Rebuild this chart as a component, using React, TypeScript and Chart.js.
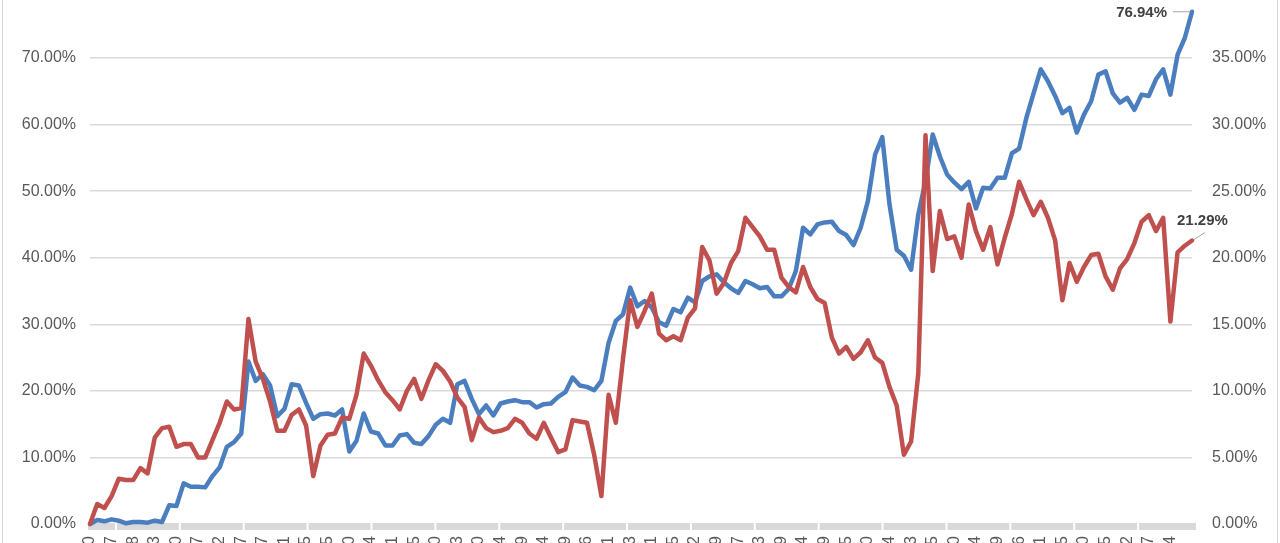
import { useEffect, useRef } from "react";
import { Chart, registerables, Plugin } from "chart.js";

Chart.register(...registerables);

// x-axis labels, one every 3 points (only the last digit survives the crop)
const tickLabels = [
  "2015/1/20", "2015/3/17", "2015/5/18", "2015/7/13", "2015/9/10", "2015/11/17",
  "2016/1/12", "2016/3/17", "2016/5/27", "2016/7/21", "2016/9/15", "2016/11/25",
  "2017/1/20", "2017/3/24", "2017/5/11", "2017/7/25", "2017/9/20", "2017/11/23",
  "2018/1/10", "2018/3/14", "2018/5/29", "2018/7/24", "2018/9/19", "2018/11/16",
  "2019/1/11", "2019/3/13", "2019/5/21", "2019/7/15", "2019/9/12", "2019/11/19",
  "2020/1/17", "2020/3/23", "2020/5/19", "2020/7/14", "2020/9/29", "2020/11/25",
  "2021/1/20", "2021/3/24", "2021/5/13", "2021/7/15", "2021/9/10", "2021/11/24",
  "2022/1/19", "2022/3/16", "2022/5/11", "2022/7/15", "2022/9/20", "2022/11/25",
  "2023/1/12", "2023/3/17", "2023/5/24",
];

// blue line, left axis (%)
const blueSeries = [
  0, 0.6, 0.4, 0.7, 0.5, 0.1, 0.3, 0.3, 0.2, 0.5,
  0.3, 2.8, 2.7, 6.1, 5.6, 5.6, 5.5, 7.2, 8.5, 11.6,
  12.3, 13.6, 24.4, 21.5, 22.5, 20.8, 16.2, 17.3, 21.0, 20.8,
  18.2, 15.8, 16.5, 16.6, 16.3, 17.2, 10.9, 12.5, 16.6, 13.9,
  13.6, 11.8, 11.8, 13.3, 13.5, 12.2, 12.0, 13.2, 14.9, 15.8,
  15.2, 21.0, 21.5, 18.8, 16.5, 17.8, 16.3, 18.1, 18.4, 18.6,
  18.3, 18.3, 17.5, 18.0, 18.1, 19.1, 19.8, 22.0, 20.8, 20.6,
  20.1, 21.5, 27.2, 30.5, 31.5, 35.5, 32.7, 33.5, 32.5, 30.3,
  29.8, 32.3, 31.8, 34.0, 33.3, 36.5, 37.2, 37.5, 36.3, 35.4,
  34.7, 36.5, 36.0, 35.4, 35.6, 34.2, 34.2, 35.3, 38.0, 44.5,
  43.5, 45.0, 45.3, 45.4, 44.0, 43.4, 41.9, 44.5, 48.5, 55.5,
  58.1, 48.0, 41.2, 40.3, 38.2, 46.5, 51.5, 58.5, 55.2, 52.5,
  51.3, 50.3, 51.4, 47.4, 50.5, 50.4, 52.0, 52.0, 55.7, 56.4,
  61.0, 64.7, 68.3, 66.5, 64.3, 61.7, 62.5, 58.8, 61.5, 63.5,
  67.5, 68.0, 64.7, 63.3, 64.0, 62.2, 64.5, 64.3, 66.8, 68.3,
  64.5, 70.5, 73.0, 76.94,
];

// red line, right axis (%)
const redSeries = [
  0, 1.5, 1.2, 2.1, 3.4, 3.3, 3.3, 4.2, 3.8, 6.5,
  7.2, 7.3, 5.8, 6.0, 6.0, 5.0, 5.0, 6.3, 7.6, 9.2,
  8.6, 8.7, 15.4, 12.2, 10.9, 9.2, 7.0, 7.0, 8.2, 8.6,
  7.4, 3.6, 5.9, 6.7, 6.8, 8.0, 7.9, 9.7, 12.8, 11.9,
  10.8, 9.9, 9.3, 8.6, 10.0, 10.9, 9.4, 10.8, 12.0, 11.5,
  10.7, 9.5, 8.8, 6.3, 8.0, 7.2, 6.9, 7.0, 7.2, 7.9,
  7.6, 6.8, 6.4, 7.6, 6.5, 5.4, 5.6, 7.8, 7.7, 7.6,
  5.2, 2.1, 9.7, 7.6, 12.4, 16.8, 14.8, 16.0, 17.3, 14.3,
  13.8, 14.1, 13.8, 15.5, 16.2, 20.8, 19.8, 17.3, 18.1, 19.6,
  20.5, 23.0, 22.3, 21.6, 20.6, 20.6, 18.5, 17.8, 17.4, 19.3,
  17.8, 16.9, 16.6, 14.0, 12.8, 13.3, 12.4, 12.9, 13.8, 12.5,
  12.1, 10.3, 8.9, 5.2, 6.2, 11.3, 29.2, 19.0, 23.5, 21.4,
  21.6, 20.0, 24.0, 22.0, 20.6, 22.3, 19.5, 21.5, 23.3, 25.7,
  24.4, 23.2, 24.2, 23.0, 21.3, 16.8, 19.6, 18.2, 19.3, 20.2,
  20.3, 18.6, 17.6, 19.2, 19.9, 21.1, 22.7, 23.2, 22.0, 23.0,
  15.2, 20.4, 20.9, 21.29,
];

const LABEL_EVERY = 3;
const categories = blueSeries.map((_, i) =>
  i % LABEL_EVERY === 0 ? tickLabels[i / LABEL_EVERY] ?? "" : ""
);

const BLUE = "#4a7ebf";
const RED = "#c0504d";
const GRID = "#d9d9d9";
const TEXT = "#595959";
const FONT = "'Liberation Sans', Arial, sans-serif";
const CLEAR = "rgba(0,0,0,0)";

const pct = (v: number) => `${v.toFixed(2)}%`;

// thick grey x-axis band with white tick gaps (Excel style)
const axisBand: Plugin = {
  id: "axisBand",
  beforeDatasetsDraw(chart) {
    const { ctx, chartArea } = chart;
    const x = chart.scales.x;
    ctx.save();
    ctx.fillStyle = GRID;
    ctx.fillRect(chartArea.left - 2, chartArea.bottom - 1, chartArea.right - chartArea.left + 6, 7);
    ctx.fillStyle = "#ffffff";
    for (let k = 3.6; k < blueSeries.length; k += 8.87) {
      const px = x.getPixelForValue(k);
      ctx.fillRect(px - 1, chartArea.bottom - 1, 2, 7);
    }
    ctx.restore();
  },
};

// value labels at the end of each line
const endLabels: Plugin = {
  id: "endLabels",
  afterDatasetsDraw(chart) {
    const ctx = chart.ctx;
    const b = chart.getDatasetMeta(0).data[blueSeries.length - 1];
    const r = chart.getDatasetMeta(1).data[redSeries.length - 1];
    if (!b || !r) return;
    ctx.save();
    ctx.font = `bold 15px ${FONT}`;
    ctx.fillStyle = "#404040";
    ctx.strokeStyle = "#a6a6a6";
    ctx.lineWidth = 1;
    ctx.textBaseline = "middle";

    ctx.textAlign = "right";
    ctx.fillText(pct(blueSeries[blueSeries.length - 1]), b.x - 25, b.y + 1.5);
    ctx.beginPath();
    ctx.moveTo(b.x - 19, b.y);
    ctx.lineTo(b.x - 2, b.y);
    ctx.stroke();

    ctx.textAlign = "left";
    ctx.fillText(pct(redSeries[redSeries.length - 1]), r.x - 15, r.y - 20);
    ctx.beginPath();
    ctx.moveTo(r.x + 13, r.y - 8);
    ctx.lineTo(r.x + 2, r.y - 1);
    ctx.stroke();
    ctx.restore();
  },
};

export default function App() {
  const canvasRef = useRef<HTMLCanvasElement | null>(null);

  useEffect(() => {
    const ctx = canvasRef.current?.getContext("2d");
    if (!ctx) return;

    const chart = new Chart(ctx, {
      type: "line",
      data: {
        labels: categories,
        datasets: [
          {
            label: "blue",
            data: blueSeries,
            yAxisID: "y",
            borderColor: BLUE,
            borderWidth: 4.5,
            order: 1,
            clip: 6,
          },
          {
            label: "red",
            data: redSeries,
            yAxisID: "y1",
            borderColor: RED,
            borderWidth: 4.5,
            order: 0,
            clip: 6,
          },
        ],
      },
      options: {
        animation: false,
        responsive: true,
        maintainAspectRatio: false,
        layout: { padding: { top: 21.4, left: 0, right: 0, bottom: 0 } },
        elements: {
          point: { radius: 0, hoverRadius: 0 },
          line: { tension: 0, borderJoinStyle: "round", borderCapStyle: "round" },
        },
        plugins: {
          legend: { display: false },
          tooltip: { enabled: false },
        },
        scales: {
          x: {
            type: "category",
            offset: false,
            grid: { display: false, drawTicks: false },
            border: { display: false },
            ticks: {
              autoSkip: false,
              minRotation: 90,
              maxRotation: 90,
              padding: 12,
              color: TEXT,
              font: { family: FONT, size: 16 },
            },
            afterFit(scale) {
              scale.height = 86;
            },
          },
          y: {
            position: "left",
            min: 0,
            max: 80,
            ticks: {
              stepSize: 10,
              padding: 0,
              color: TEXT,
              font: { family: FONT, size: 16 },
              callback: (v) => pct(Number(v)),
            },
            // invisible tick marks give the label gap without padding the plot top
            grid: { color: GRID, lineWidth: 1.5, drawTicks: true, tickLength: 14, tickColor: CLEAR },
            border: { display: false },
            afterFit(scale) {
              scale.width = 87;
            },
          },
          y1: {
            position: "right",
            min: 0,
            max: 40,
            ticks: {
              stepSize: 5,
              padding: 0,
              color: TEXT,
              font: { family: FONT, size: 16 },
              callback: (v) => pct(Number(v)),
            },
            grid: { drawOnChartArea: false, drawTicks: true, tickLength: 20, tickColor: CLEAR },
            border: { display: false },
            afterFit(scale) {
              scale.width = 85;
            },
          },
        },
      },
      plugins: [axisBand, endLabels],
    });

    return () => {
      chart.destroy();
    };
  }, []);

  return (
    <div style={{ position: "fixed", inset: 0, overflow: "hidden", background: "#ffffff" }}>
      <div
        style={{
          position: "absolute",
          left: 2,
          top: -30,
          width: 1276,
          height: 640,
          borderLeft: `1px solid ${GRID}`,
          borderRight: `1px solid ${GRID}`,
          boxSizing: "border-box",
        }}
      >
        <canvas ref={canvasRef} />
      </div>
    </div>
  );
}
